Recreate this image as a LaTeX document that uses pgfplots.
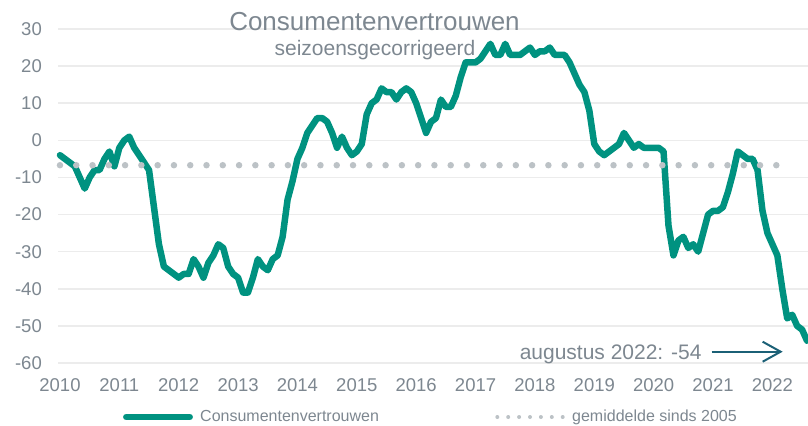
\documentclass[border=0pt]{standalone}
\usepackage{pgfplots}
\pgfplotsset{compat=1.18}
\usepackage{fontspec}
\setmainfont{Liberation Sans}
\usetikzlibrary{arrows.meta}
\definecolor{teal1}{RGB}{0,146,128}
\definecolor{txtgray}{RGB}{125,135,144}
\definecolor{dotgray}{RGB}{188,194,198}
\definecolor{gridgray}{RGB}{236,236,236}
\definecolor{arrowblue}{RGB}{27,96,118}
\begin{document}
\begin{tikzpicture}[x=1bp,y=1bp]
\useasboundingbox (0,0) rectangle (808,-425);
\begin{axis}[
  at={(58bp,-363bp)}, anchor=south west,
  width=750bp, height=334bp, scale only axis,
  xmin=-0.4, xmax=151.2, ymin=-60, ymax=30,
  xtick={0,12,24,36,48,60,72,84,96,108,120,132,144},
  xticklabels={2010,2011,2012,2013,2014,2015,2016,2017,2018,2019,2020,2021,2022},
  ytick={-60,-50,-40,-30,-20,-10,0,10,20,30},
  yticklabels={-60,-50,-40,-30,-20,-10,0,10,20,30},
  ymajorgrids, grid style={gridgray, line width=1.5bp},
  axis line style={draw=none}, major tick length=0pt,
  tick label style={font=\fontsize{18.5bp}{22bp}\selectfont, text=txtgray},
  xticklabel style={anchor=base, inner sep=0pt, yshift=-28.5bp},
  yticklabel style={anchor=east, inner sep=0pt, xshift=-16bp},
  clip=false,
]
\addplot[teal1, line width=6.5bp, line join=round, line cap=round] coordinates {
(0,-4) (1,-5) (2,-6) (3,-7) (4,-10) (5,-13) (6,-10) (7,-8) (8,-8) (9,-5) (10,-3) (11,-7)
(12,-2) (13,0) (14,1) (15,-2) (16,-4) (17,-6) (18,-8) (19,-18) (20,-28) (21,-34) (22,-35) (23,-36)
(24,-37) (25,-36) (26,-36) (27,-32) (28,-34) (29,-37) (30,-33) (31,-31) (32,-28) (33,-29) (34,-34) (35,-36)
(36,-37) (37,-41) (38,-41) (39,-37) (40,-32) (41,-34) (42,-35) (43,-32) (44,-31) (45,-26) (46,-16) (47,-11)
(48,-5) (49,-2) (50,2) (51,4) (52,6) (53,6) (54,5) (55,2) (56,-2) (57,1) (58,-2) (59,-4)
(60,-3) (61,-1) (62,7) (63,10) (64,11) (65,14) (66,13) (67,13) (68,11) (69,13) (70,14) (71,13)
(72,10) (73,6) (74,2) (75,5) (76,6) (77,11) (78,9) (79,9) (80,12) (81,17) (82,21) (83,21)
(84,21) (85,22) (86,24) (87,26) (88,23) (89,23) (90,26) (91,23) (92,23) (93,23) (94,24) (95,25)
(96,23) (97,24) (98,24) (99,25) (100,23) (101,23) (102,23) (103,21) (104,18) (105,15) (106,13) (107,8)
(108,-1) (109,-3) (110,-4) (111,-3) (112,-2) (113,-1) (114,2) (115,0) (116,-2) (117,-1) (118,-2) (119,-2)
(120,-2) (121,-2) (122,-3) (123,-23) (124,-31) (125,-27) (126,-26) (127,-29) (128,-28) (129,-30) (130,-25) (131,-20)
(132,-19) (133,-19) (134,-18) (135,-14) (136,-9) (137,-3) (138,-4) (139,-5) (140,-5) (141,-8) (142,-19) (143,-25)
(144,-28) (145,-31) (146,-40) (147,-48) (148,-47) (149,-50) (150,-51) (151,-54)
};
\addplot[dotgray, line width=6.5bp, line cap=round, dash pattern=on 0bp off 16.28bp] coordinates {(0,-6.7) (145,-6.7)};
\end{axis}
\node[anchor=base, inner sep=0pt, text=txtgray, font=\fontsize{26bp}{30bp}\selectfont] at (374.5,-30) {Consumentenvertrouwen};
\node[anchor=base, inner sep=0pt, text=txtgray, font=\fontsize{21bp}{25bp}\selectfont] at (375,-55) {seizoensgecorrigeerd};
\node[anchor=base east, inner sep=0pt, text=txtgray, font=\fontsize{21bp}{25bp}\selectfont] at (701.7,-359) {augustus 2022: -54};
\draw[arrowblue, line width=2bp, -{Straight Barb[length=18bp, width=20bp]}] (711.7,-351.7) -- (782.7,-351.7);
\draw[teal1, line width=6.5bp, line cap=round] (126.3,-417) -- (189.7,-417);
\node[anchor=base west, inner sep=0pt, text=txtgray, font=\fontsize{16bp}{19bp}\selectfont] at (200,-421.3) {Consumentenvertrouwen};
\draw[dotgray, line width=4bp, line cap=round, dash pattern=on 0bp off 10.9bp] (497.3,-417) -- (563,-417);
\node[anchor=base west, inner sep=0pt, text=txtgray, font=\fontsize{16bp}{19bp}\selectfont] at (572,-421.3) {gemiddelde sinds 2005};
\end{tikzpicture}
\end{document}
